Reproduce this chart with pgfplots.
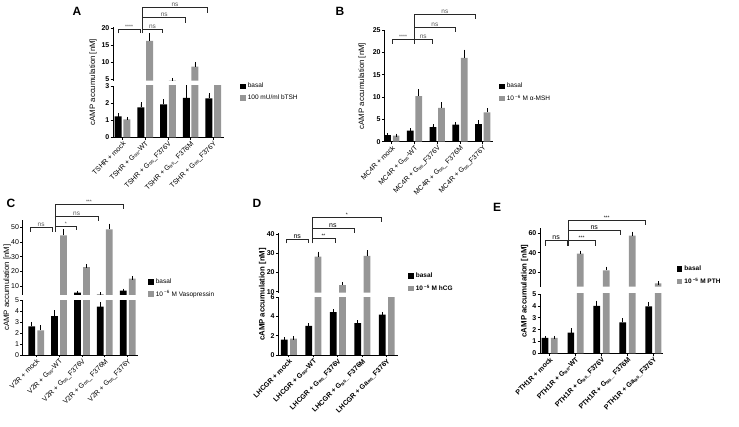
\documentclass[border=0pt]{standalone}
\usepackage{fontspec}
\setmainfont{Liberation Sans}
\usepackage{pgfplots}
\usepackage{pgfplotstable}
\pgfplotsset{compat=1.18}
\definecolor{barg}{RGB}{150,150,150}
\definecolor{brk}{RGB}{40,40,40}
\newcommand{\Gs}{G\raisebox{-0.6pt}{\fontsize{5}{5}\selectfont αs}}

\pgfplotsset{
 panel/.style={scale only axis, enlargelimits=false, axis line style={-, line width=0.8pt},
   tick style={black, line width=0.7pt}, tick align=outside, major tick length=2.5pt,
   /pgf/number format/assume math mode=true,
   yticklabel style={font=\fontsize{7}{8}\selectfont, inner sep=1pt}, xtick={0,1,2,3,4}},
 lowerax/.style={panel, axis x line*=bottom, axis y line*=left,
   xticklabel style={rotate=45, anchor=north east, font=\fontsize{7}{7}\selectfont, inner sep=0.5pt},
   legend style={draw=none, fill=none, anchor=north west, inner sep=0pt, row sep=1.5pt,
     font=\fontsize{6.5}{7}\selectfont}, legend cell align=left},
 upperax/.style={panel, axis y line*=left, axis x line=none, unbounded coords=discard},
 overax/.style={scale only axis, enlargelimits=false, hide axis, clip=false},
 errs/.style={error bars/y dir=plus, error bars/y explicit,
   error bars/error bar style={draw=black, line width=0.7pt, solid},
   error bars/error mark options={draw=black, mark size=1.7pt, line width=0.7pt}},
 sqleg/.style={legend image code/.code={\fill[##1] (0pt,-2.8pt) rectangle (5.6pt,2.8pt);}},
 bk/.style={ybar, bar shift=0pt, fill=black, draw=none, errs, sqleg},
 gr/.style={ybar, bar shift=0pt, fill=barg, draw=none, errs, sqleg},
 brkt/.style={brk, line width=0.6pt},
}

\pgfplotstableread{
x b be s se
0 1.22 0.08 1.05 0.05
1 1.75 0.20 16.3 1.8
2 1.92 0.20 4.65 0.25
3 2.30 0.75 8.7 0.9
4 2.28 0.20 4.0 0.3
}\dataA
\pgfplotstableread{
x b be s se
0 1.45 0.05 1.35 0.05
1 2.45 0.20 10.2 1.2
2 3.25 0.30 7.55 0.85
3 3.80 0.25 18.75 1.5
4 3.95 0.45 6.55 0.5
}\dataB
\pgfplotstableread{
x b be s se
0 2.62 0.25 2.25 0.30
1 3.55 0.40 44.5 3.3
2 5.70 0.20 23.0 0.8
3 4.42 0.28 48.5 2.8
4 7.00 0.30 15.2 0.5
}\dataC
\pgfplotstableread{
x b be s se
0 1.60 0.05 1.70 0.05
1 3.02 0.12 28.3 1.7
2 4.45 0.12 13.5 0.8
3 3.32 0.10 28.7 2.0
4 4.20 0.10 7.5 0.3
}\dataD
\pgfplotstableread{
x b be s se
0 1.30 0.02 1.30 0.02
1 1.75 0.20 39.0 1.5
2 4.00 0.30 22.0 2.0
3 2.60 0.20 57.5 2.5
4 3.95 0.25 8.7 0.4
}\dataE

\begin{document}
\begin{tikzpicture}
\path[use as bounding box] (0,0) rectangle (739pt,427pt);

% ================= Panel A =================
\begin{axis}[lowerax, at={(113pt,289.7pt)}, anchor=south west, width=111pt, height=51.3pt,
  xmin=-0.42, xmax=4.47, ymin=0, ymax=3, ytick={0,1,2,3}, bar width=7pt,
  yticklabel style={font=\bfseries\fontsize{7}{8}\selectfont},
  xticklabels={TSHR + mock, TSHR + \Gs-WT, TSHR + \Gs\_F376V, TSHR + \Gs\_ F376M, TSHR + \Gs\_F376Y},
  legend style={at={(axis description cs:1.144,1.097)}}]
\addplot[bk] table[x expr=\thisrow{x}-0.192, y=b, y error=be] {\dataA};
\addplot[gr] table[x expr=\thisrow{x}+0.192, y=s, y error=se] {\dataA};
\legend{basal, 100 mU/ml bTSH}
\end{axis}
\begin{axis}[upperax, at={(113pt,346.34pt)}, anchor=south west, width=111pt, height=54.06pt,
  xmin=-0.42, xmax=4.47, ymin=4.6, ymax=20.5, restrict y to domain=4.6:1000, ytick={5,10,15,20}, bar width=7pt,
  yticklabel style={font=\bfseries\fontsize{7}{8}\selectfont}]
\addplot[bk] table[x expr=\thisrow{x}-0.192, y=b, y error=be] {\dataA};
\addplot[gr] table[x expr=\thisrow{x}+0.192, y=s, y error=se] {\dataA};
\end{axis}
\begin{axis}[overax, at={(113pt,346.34pt)}, anchor=south west, width=111pt, height=54.06pt,
  xmin=-0.42, xmax=4.47, ymin=4.6, ymax=20.5]
\addplot[brkt] coordinates {(-0.19,18.5) (-0.19,19.7) (0.77,19.7) (0.77,18.5)};
\addplot[brkt] coordinates {(0.89,18.5) (0.89,26.2) (3.73,26.2) (3.73,24.6)};
\addplot[brkt] coordinates {(0.89,19.7) (1.75,19.7) (1.75,18.5)};
\addplot[brkt] coordinates {(0.89,23.2) (2.78,23.2) (2.78,21.6)};
\node[font=\fontsize{5}{5}\selectfont, anchor=south, inner sep=0.8pt, text=black!75] at (axis cs:0.29,19.7) {****};
\node[font=\fontsize{6.5}{6.5}\selectfont, anchor=south, inner sep=0.8pt, text=black!65] at (axis cs:1.32,19.7) {ns};
\node[font=\fontsize{6.5}{6.5}\selectfont, anchor=south, inner sep=0.8pt, text=black!65] at (axis cs:1.835,23.2) {ns};
\node[font=\fontsize{6.5}{6.5}\selectfont, anchor=south, inner sep=0.8pt, text=black!65] at (axis cs:2.31,26.2) {ns};
\end{axis}
\node[rotate=90, font=\fontsize{7.8}{8}\selectfont] at (93pt,345pt) {cAMP accumulation [nM]};
\node[font=\bfseries\fontsize{12}{12}\selectfont] at (77pt,416pt) {A};

% ================= Panel B =================
\begin{axis}[lowerax, at={(384.3pt,285.3pt)}, anchor=south west, width=108.7pt, height=111.7pt,
  xmin=-0.33, xmax=4.45, ymin=0, ymax=25, ytick={0,5,10,15,20,25}, bar width=6.7pt,
  yticklabel style={font=\bfseries\fontsize{7}{8}\selectfont},
  xticklabels={MC4R + mock, MC4R + \Gs-WT, MC4R + \Gs\_F376V, MC4R + \Gs\_ F376M, MC4R + \Gs\_F376Y},
  legend style={at={(axis description cs:1.055,0.543)}}]
\addplot[bk] table[x expr=\thisrow{x}-0.189, y=b, y error=be] {\dataB};
\addplot[gr] table[x expr=\thisrow{x}+0.189, y=s, y error=se] {\dataB};
\legend{basal, 10\,\textsuperscript{−6} M α-MSH}
\end{axis}
\begin{axis}[overax, at={(384.3pt,285.3pt)}, anchor=south west, width=108.7pt, height=111.7pt,
  xmin=-0.33, xmax=4.45, ymin=0, ymax=25]
\addplot[brkt] coordinates {(0,21.9) (0,22.9) (0.99,22.9) (0.99,21.9)};
\addplot[brkt] coordinates {(0.99,21.9) (0.99,28.4) (3.68,28.4) (3.68,27.4)};
\addplot[brkt] coordinates {(0.99,22.9) (1.78,22.9) (1.78,21.9)};
\addplot[brkt] coordinates {(0.99,25.6) (2.8,25.6) (2.8,24.6)};
\node[font=\fontsize{5}{5}\selectfont, anchor=south, inner sep=0.8pt, text=black!75] at (axis cs:0.495,22.9) {****};
\node[font=\fontsize{6.5}{6.5}\selectfont, anchor=south, inner sep=0.8pt, text=black!65] at (axis cs:1.385,22.9) {ns};
\node[font=\fontsize{6.5}{6.5}\selectfont, anchor=south, inner sep=0.8pt, text=black!65] at (axis cs:1.895,25.6) {ns};
\node[font=\fontsize{6.5}{6.5}\selectfont, anchor=south, inner sep=0.8pt, text=black!65] at (axis cs:2.335,28.4) {ns};
\end{axis}
\node[rotate=90, font=\fontsize{7.8}{8}\selectfont] at (362pt,341pt) {cAMP accumulation [nM]};
\node[font=\bfseries\fontsize{12}{12}\selectfont] at (340pt,416pt) {B};

% ================= Panel C =================
\begin{axis}[lowerax, at={(22.7pt,72pt)}, anchor=south west, width=115.3pt, height=54.7pt,
  xmin=-0.59, xmax=4.45, ymin=0, ymax=5, ytick={0,1,2,3,4,5}, bar width=6.7pt,
  xticklabels={V2R + mock, V2R + \Gs-WT, V2R + \Gs\_F376V, V2R + \Gs\_ F376M, V2R + \Gs\_F376Y},
  legend style={at={(axis description cs:1.087,1.435)}}]
\addplot[bk] table[x expr=\thisrow{x}-0.197, y=b, y error=be] {\dataC};
\addplot[gr] table[x expr=\thisrow{x}+0.197, y=s, y error=se] {\dataC};
\legend{basal, 10\,\textsuperscript{−6} M Vasopressin}
\end{axis}
\begin{axis}[upperax, at={(22.7pt,132pt)}, anchor=south west, width=115.3pt, height=75.1pt,
  xmin=-0.59, xmax=4.45, ymin=4.1, ymax=55, restrict y to domain=4.1:1000, ytick={10,20,30,40,50}, bar width=6.7pt]
\addplot[bk] table[x expr=\thisrow{x}-0.197, y=b, y error=be] {\dataC};
\addplot[gr] table[x expr=\thisrow{x}+0.197, y=s, y error=se] {\dataC};
\end{axis}
\begin{axis}[overax, at={(22.7pt,132pt)}, anchor=south west, width=115.3pt, height=75.1pt,
  xmin=-0.59, xmax=4.45, ymin=4.1, ymax=55]
\addplot[brkt] coordinates {(-0.27,47) (-0.27,50.0) (0.7,50.0) (0.7,47)};
\addplot[brkt] coordinates {(0.82,47) (0.82,65.6) (3.79,65.6) (3.79,62.4)};
\addplot[brkt] coordinates {(0.82,57.2) (2.71,57.2) (2.71,54.3)};
\addplot[brkt] coordinates {(0.82,50.4) (1.77,50.4) (1.77,48.0)};
\node[font=\fontsize{6.5}{6.5}\selectfont, anchor=south, inner sep=0.8pt, text=black!65] at (axis cs:0.215,50.0) {ns};
\node[font=\fontsize{5}{5}\selectfont, anchor=south, inner sep=0.8pt, text=black!75] at (axis cs:1.295,50.4) {*};
\node[font=\fontsize{6.5}{6.5}\selectfont, anchor=south, inner sep=0.8pt, text=black!65] at (axis cs:1.765,57.2) {ns};
\node[font=\fontsize{5}{5}\selectfont, anchor=south, inner sep=0.8pt, text=black!75] at (axis cs:2.305,65.6) {***};
\end{axis}
\node[rotate=90, font=\fontsize{7.8}{8}\selectfont] at (7pt,139.5pt) {cAMP accumulation [nM]};
\node[font=\bfseries\fontsize{12}{12}\selectfont] at (11pt,224pt) {C};

% ================= Panel D =================
\begin{axis}[lowerax, at={(278.3pt,72pt)}, anchor=south west, width=120pt, height=57.7pt,
  xmin=-0.43, xmax=4.47, ymin=0, ymax=6, ytick={0,2,4,6}, bar width=6.7pt,
  yticklabel style={font=\bfseries\fontsize{7}{8}\selectfont},
  xticklabel style={font=\bfseries\fontsize{7}{7}\selectfont},
  xticklabels={LHCGR + mock, LHCGR + \Gs-WT, LHCGR + \Gs\_F376V, LHCGR + \Gs\_ F376M, LHCGR + Ga\raisebox{-0.6pt}{\fontsize{5}{5}\selectfont αs}\_F376Y},
  legend style={at={(axis description cs:1.081,1.456)}, font=\bfseries\fontsize{6.5}{7}\selectfont}]
\addplot[bk] table[x expr=\thisrow{x}-0.188, y=b, y error=be] {\dataD};
\addplot[gr] table[x expr=\thisrow{x}+0.188, y=s, y error=se] {\dataD};
\legend{basal, 10\,\textsuperscript{−5} M hCG}
\end{axis}
\begin{axis}[upperax, at={(278.3pt,134.3pt)}, anchor=south west, width=120pt, height=59.4pt,
  xmin=-0.43, xmax=4.47, ymin=9.5, ymax=40.5, restrict y to domain=9.5:1000, ytick={10,20,30,40}, bar width=6.7pt,
  yticklabel style={font=\bfseries\fontsize{7}{8}\selectfont}]
\addplot[bk] table[x expr=\thisrow{x}-0.188, y=b, y error=be] {\dataD};
\addplot[gr] table[x expr=\thisrow{x}+0.188, y=s, y error=se] {\dataD};
\end{axis}
\begin{axis}[overax, at={(278.3pt,134.3pt)}, anchor=south west, width=120pt, height=59.4pt,
  xmin=-0.43, xmax=4.47, ymin=9.5, ymax=40.5]
\addplot[brkt] coordinates {(-0.11,35.3) (-0.11,37.4) (0.8,37.4) (0.8,35.3)};
\addplot[brkt] coordinates {(0.94,35.3) (0.94,48.7) (3.79,48.7) (3.79,46.3)};
\addplot[brkt] coordinates {(0.94,43.1) (2.66,43.1) (2.66,40.5)};
\addplot[brkt] coordinates {(0.94,37.9) (1.89,37.9) (1.89,35.6)};
\node[font=\fontsize{7}{7}\selectfont, anchor=south, inner sep=0.8pt] at (axis cs:0.345,37.4) {ns};
\node[font=\fontsize{5}{5}\selectfont, anchor=south, inner sep=0.8pt] at (axis cs:1.415,37.9) {**};
\node[font=\fontsize{7}{7}\selectfont, anchor=south, inner sep=0.8pt] at (axis cs:1.8,43.1) {ns};
\node[font=\fontsize{5}{5}\selectfont, anchor=south, inner sep=0.8pt] at (axis cs:2.365,48.7) {*};
\end{axis}
\node[rotate=90, font=\bfseries\fontsize{7.8}{8}\selectfont] at (262.5pt,132.5pt) {cAMP accumulation [nM]};
\node[font=\bfseries\fontsize{12}{12}\selectfont] at (257pt,224pt) {D};

% ================= Panel E =================
\begin{axis}[lowerax, at={(540pt,73.7pt)}, anchor=south west, width=123pt, height=59.3pt,
  xmin=-0.37, xmax=4.37, ymin=0, ymax=5, ytick={0,1,2,3,4,5}, bar width=6.7pt,
  yticklabel style={font=\bfseries\fontsize{7}{8}\selectfont},
  xticklabel style={font=\bfseries\fontsize{7}{7}\selectfont},
  xticklabels={PTH1R + mock, PTH1R + \Gs-WT, PTH1R + \Gs\_F376V, PTH1R + \Gs\_ F376M, PTH1R + Ga\raisebox{-0.6pt}{\fontsize{5}{5}\selectfont αs}\_F376Y},
  legend style={at={(axis description cs:1.111,1.506)}, font=\bfseries\fontsize{6.5}{7}\selectfont}]
\addplot[bk] table[x expr=\thisrow{x}-0.181, y=b, y error=be] {\dataE};
\addplot[gr] table[x expr=\thisrow{x}+0.181, y=s, y error=se] {\dataE};
\legend{basal, 10\,\textsuperscript{−5} M PTH}
\end{axis}
\begin{axis}[upperax, at={(540pt,140.3pt)}, anchor=south west, width=123pt, height=58.3pt,
  xmin=-0.37, xmax=4.37, ymin=5.2, ymax=65, restrict y to domain=5.2:1000, ytick={20,40,60}, bar width=6.7pt,
  yticklabel style={font=\bfseries\fontsize{7}{8}\selectfont}]
\addplot[bk] table[x expr=\thisrow{x}-0.181, y=b, y error=be] {\dataE};
\addplot[gr] table[x expr=\thisrow{x}+0.181, y=s, y error=se] {\dataE};
\end{axis}
\begin{axis}[overax, at={(540pt,140.3pt)}, anchor=south west, width=123pt, height=58.3pt,
  xmin=-0.37, xmax=4.37, ymin=5.2, ymax=65]
\addplot[brkt] coordinates {(-0.18,47) (-0.18,52.4) (0.68,52.4) (0.68,47)};
\addplot[brkt] coordinates {(0.72,47) (0.72,72.9) (3.68,72.9) (3.68,68.5)};
\addplot[brkt] coordinates {(0.72,62.7) (2.72,62.7) (2.72,58.3)};
\addplot[brkt] coordinates {(0.72,52.4) (1.75,52.4) (1.75,47)};
\node[font=\fontsize{7}{7}\selectfont, anchor=south, inner sep=0.8pt] at (axis cs:0.25,52.4) {ns};
\node[font=\fontsize{5}{5}\selectfont, anchor=south, inner sep=0.8pt] at (axis cs:1.235,52.4) {***};
\node[font=\fontsize{7}{7}\selectfont, anchor=south, inner sep=0.8pt] at (axis cs:1.72,62.7) {ns};
\node[font=\fontsize{5}{5}\selectfont, anchor=south, inner sep=0.8pt] at (axis cs:2.2,72.9) {***};
\end{axis}
\node[rotate=90, font=\bfseries\fontsize{7.8}{8}\selectfont] at (524.5pt,136pt) {cAMP accumulation [nM]};
\node[font=\bfseries\fontsize{12}{12}\selectfont] at (497pt,220pt) {E};

\end{tikzpicture}
\end{document}
